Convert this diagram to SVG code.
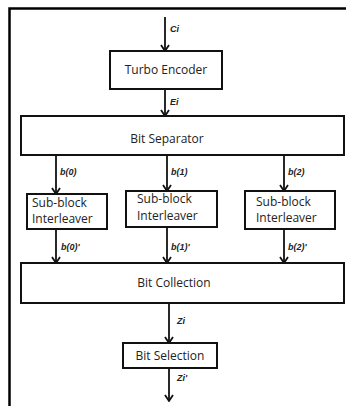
<svg xmlns="http://www.w3.org/2000/svg" width="346" height="406" viewBox="0 0 346 406">
<defs>
<marker id="arr" viewBox="0 0 8 10" refX="7" refY="5" markerWidth="8" markerHeight="10" markerUnits="userSpaceOnUse" orient="auto">
<path d="M1,1 L7,5 L1,9" fill="none" stroke="#111" stroke-width="1.8"/>
</marker>
<style>
.box{fill:#fff;stroke:#111;stroke-width:2}
.t{font-family:"Open Sans","Liberation Sans",sans-serif;font-size:12px;fill:#222}
.c{text-anchor:middle}
.lb{font-family:"Liberation Sans","Open Sans",sans-serif;font-size:9px;font-weight:bold;font-style:italic;fill:#222}
.ln{stroke:#111;stroke-width:1.8;fill:none;marker-end:url(#arr)}
.frame{stroke:#000;stroke-width:2.5;fill:none}
</style>
</defs>
<rect width="346" height="406" fill="#fff"/>
<path class="frame" d="M9.5,406 V8.5 H346"/>

<g id="connectors">
<line class="ln" x1="165" y1="17" x2="165" y2="51"/>
<line class="ln" x1="165" y1="89" x2="165" y2="116"/>
<line class="ln" x1="56" y1="155" x2="56" y2="194"/>
<line class="ln" x1="167" y1="155" x2="167" y2="191"/>
<line class="ln" x1="284" y1="155" x2="284" y2="191"/>
<line class="ln" x1="56" y1="229" x2="56" y2="263"/>
<line class="ln" x1="167" y1="227" x2="167" y2="263"/>
<line class="ln" x1="284" y1="229" x2="284" y2="263"/>
<line class="ln" x1="169" y1="303" x2="169" y2="343"/>
<line class="ln" x1="169" y1="368" x2="169" y2="401"/>
<text class="lb" x="170" y="32">Ci</text>
<text class="lb" x="170" y="105">Ei</text>
<text class="lb" x="60" y="175">b(0)</text>
<text class="lb" x="171" y="175">b(1)</text>
<text class="lb" x="288" y="175">b(2)</text>
<text class="lb" x="61" y="250">b(0)'</text>
<text class="lb" x="171" y="250">b(1)'</text>
<text class="lb" x="288" y="250">b(2)'</text>
<text class="lb" x="177" y="324">Zi</text>
<text class="lb" x="177" y="381">Zi'</text>
</g>

<g id="turbo-encoder">
<rect class="box" x="110" y="51" width="112" height="38"/>
<text class="t c" x="166" y="74">Turbo Encoder</text>
</g>

<g id="bit-separator">
<rect class="box" x="21" y="116" width="323" height="39"/>
<text class="t c" x="167" y="143">Bit Separator</text>
</g>

<g id="sub-block-0">
<rect class="box" x="27" y="194" width="80" height="35"/>
<text class="t" x="32" y="207">Sub-block</text>
<text class="t" x="32" y="223">Interleaver</text>
</g>

<g id="sub-block-1">
<rect class="box" x="126" y="191" width="91" height="36"/>
<text class="t" x="137" y="203">Sub-block</text>
<text class="t" x="137" y="220">Interleaver</text>
</g>

<g id="sub-block-2">
<rect class="box" x="245" y="191" width="90" height="38"/>
<text class="t" x="256" y="206">Sub-block</text>
<text class="t" x="256" y="222">Interleaver</text>
</g>

<g id="bit-collection">
<rect class="box" x="21" y="263" width="323" height="40"/>
<text class="t c" x="174" y="287">Bit Collection</text>
</g>

<g id="bit-selection">
<rect class="box" x="123" y="343" width="94" height="25"/>
<text class="t c" x="170" y="360">Bit Selection</text>
</g>
</svg>
